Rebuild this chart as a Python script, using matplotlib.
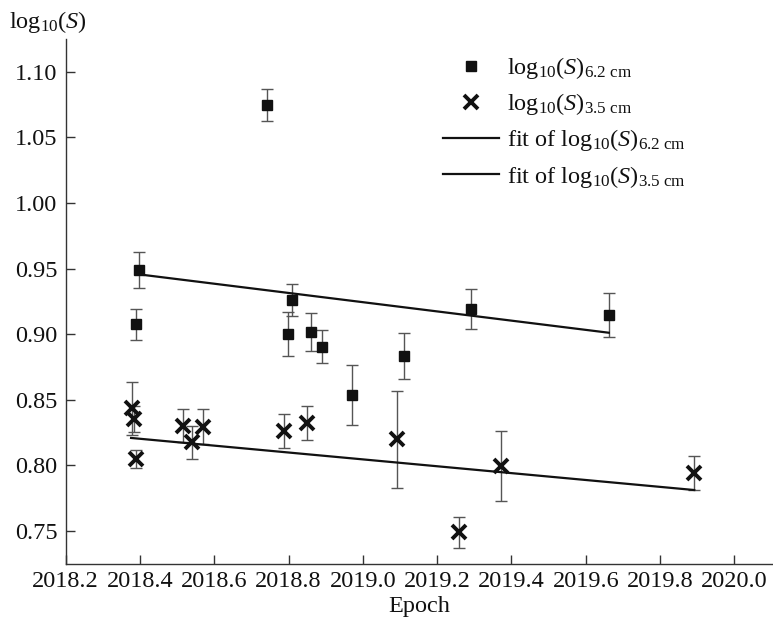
import matplotlib
matplotlib.use("Agg")
import matplotlib.pyplot as plt
import numpy as np

# ---- data ----
epoch_62 = [2018.742, 2018.397, 2018.388, 2018.808, 2018.799, 2018.859, 2018.889,
            2018.970, 2019.111, 2019.290, 2019.662]
logS_62 = [1.0747, 0.9489, 0.9075, 0.9260, 0.9001, 0.9019, 0.8905,
           0.8534, 0.8834, 0.9194, 0.9146]
err_62 = [0.012, 0.0136, 0.012, 0.012, 0.017, 0.0145, 0.0128,
          0.023, 0.0174, 0.0154, 0.017]

epoch_35 = [2018.378, 2018.385, 2018.388, 2018.517, 2018.539, 2018.569, 2018.788,
            2018.850, 2019.091, 2019.260, 2019.371, 2019.892]
logS_35 = [0.8435, 0.8353, 0.8049, 0.8302, 0.8176, 0.8295, 0.8264,
           0.8323, 0.8199, 0.7490, 0.7995, 0.7944]
err_35 = [0.0202, 0.010, 0.0066, 0.0127, 0.0124, 0.0132, 0.013,
          0.0128, 0.037, 0.012, 0.0268, 0.0128]

fit_62_x = [2018.397, 2019.662]
fit_62_y = [0.9456, 0.9011]
fit_35_x = [2018.376, 2019.892]
fit_35_y = [0.8209, 0.7812]

xticks = [2018.2, 2018.4, 2018.6, 2018.8, 2019.0, 2019.2, 2019.4, 2019.6, 2019.8, 2020.0]
yticks = [0.75, 0.80, 0.85, 0.90, 0.95, 1.00, 1.05, 1.10]

# ---- style ----
plt.rcParams['font.family'] = ['Liberation Serif', 'DejaVu Serif']
plt.rcParams['mathtext.fontset'] = 'custom'
plt.rcParams['mathtext.rm'] = 'Liberation Serif'
plt.rcParams['mathtext.it'] = 'Liberation Serif:italic'
plt.rcParams['mathtext.bf'] = 'Liberation Serif:bold'

fs = 17.5
fig = plt.figure(figsize=(7.73, 6.24), dpi=100)
ax = fig.add_axes([0.085, 0.0957, 0.915, 0.8418])

ecol = '#555555'
ax.errorbar(epoch_62, logS_62, yerr=err_62, fmt='none', ecolor=ecol,
            elinewidth=1.0, capsize=4, capthick=1.0, zorder=2)
ax.errorbar(epoch_35, logS_35, yerr=err_35, fmt='none', ecolor=ecol,
            elinewidth=1.0, capsize=4, capthick=1.0, zorder=2)

l1, = ax.plot(epoch_62, logS_62, ls='none', marker='s', ms=7.2, color='#111111',
              zorder=3, label=r'$\mathrm{log}_{10}(S)_{6.2\ \mathrm{cm}}$')
l2, = ax.plot(epoch_35, logS_35, ls='none', marker='x', ms=9.5, mew=2.8,
              color='#111111', zorder=3, label=r'$\mathrm{log}_{10}(S)_{3.5\ \mathrm{cm}}$')
l3, = ax.plot(fit_62_x, fit_62_y, color='#111111', lw=1.6, zorder=4,
              label=r'fit of $\mathrm{log}_{10}(S)_{6.2\ \mathrm{cm}}$')
l4, = ax.plot(fit_35_x, fit_35_y, color='#111111', lw=1.6, zorder=4,
              label=r'fit of $\mathrm{log}_{10}(S)_{3.5\ \mathrm{cm}}$')

ax.set_xlim(2018.2, 2020.104)
ax.set_ylim(0.7246, 1.125)
ax.set_xticks(xticks)
ax.set_xticklabels([f'{t:.1f}' for t in xticks])
ax.set_yticks(yticks)
ax.set_yticklabels([f'{t:.2f}' for t in yticks])

for s in ['top', 'right']:
    ax.spines[s].set_visible(False)
for s in ['left', 'bottom']:
    ax.spines[s].set_color('#333333')
    ax.spines[s].set_linewidth(1.0)

ax.tick_params(direction='in', length=6.5, width=1.0, color='#333333',
               labelsize=fs, labelcolor='#111111')
ax.tick_params(axis='y', pad=6)
ax.tick_params(axis='x', pad=5)

ax.set_xlabel('Epoch', fontsize=fs, color='#111111', labelpad=3)
fig.text(0.012, 0.965, r'$\mathrm{log}_{10}(S)$', fontsize=fs, color='#111111',
         ha='left', va='center')

leg = ax.legend(handles=[l1, l2, l3, l4], loc='upper left',
                bbox_to_anchor=(0.551, 0.939), bbox_transform=fig.transFigure,
                frameon=False, fontsize=fs, handlelength=2.3,
                handletextpad=0.35, labelspacing=0.42, borderpad=0.2,
                labelcolor='#111111')

fig.savefig('out.png', dpi=100)
